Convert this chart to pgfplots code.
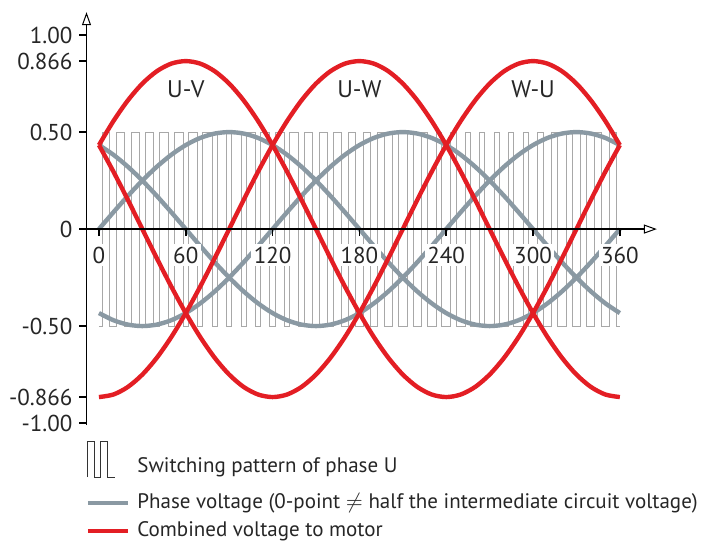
\documentclass[border=0pt]{standalone}
\usepackage{pgfplots}
\pgfplotsset{compat=1.18}
\usepackage{pgfplotstable}
\usepackage{fontspec}
\setmainfont{PT Sans}
\usetikzlibrary{arrows.meta}

\definecolor{motorred}{HTML}{E31E24}
\definecolor{phasegray}{HTML}{8A99A3}
\definecolor{pwmgray}{HTML}{A8A8A8}

% phase voltages (ga, gb, gc) and combined voltages (r1, r2, r3)
\pgfplotstableread{
x   ga      gb      gc      r1      r2      r3
0   0       0.4330  -0.4330 0.4330  -0.8660 0.4330
10  0.0868  0.3830  -0.4698 0.5567  -0.8529 0.2962
20  0.1710  0.3214  -0.4924 0.6634  -0.8138 0.1504
30  0.2500  0.2500  -0.5000 0.7500  -0.7500 0
40  0.3214  0.1710  -0.4924 0.8138  -0.6634 -0.1504
50  0.3830  0.0868  -0.4698 0.8529  -0.5567 -0.2962
60  0.4330  0       -0.4330 0.8660  -0.4330 -0.4330
70  0.4698  -0.0868 -0.3830 0.8529  -0.2962 -0.5567
80  0.4924  -0.1710 -0.3214 0.8138  -0.1504 -0.6634
90  0.5000  -0.2500 -0.2500 0.7500  0       -0.7500
100 0.4924  -0.3214 -0.1710 0.6634  0.1504  -0.8138
110 0.4698  -0.3830 -0.0868 0.5567  0.2962  -0.8529
120 0.4330  -0.4330 0       0.4330  0.4330  -0.8660
130 0.3830  -0.4698 0.0868  0.2962  0.5567  -0.8529
140 0.3214  -0.4924 0.1710  0.1504  0.6634  -0.8138
150 0.2500  -0.5000 0.2500  0       0.7500  -0.7500
160 0.1710  -0.4924 0.3214  -0.1504 0.8138  -0.6634
170 0.0868  -0.4698 0.3830  -0.2962 0.8529  -0.5567
180 0       -0.4330 0.4330  -0.4330 0.8660  -0.4330
190 -0.0868 -0.3830 0.4698  -0.5567 0.8529  -0.2962
200 -0.1710 -0.3214 0.4924  -0.6634 0.8138  -0.1504
210 -0.2500 -0.2500 0.5000  -0.7500 0.7500  0
220 -0.3214 -0.1710 0.4924  -0.8138 0.6634  0.1504
230 -0.3830 -0.0868 0.4698  -0.8529 0.5567  0.2962
240 -0.4330 0       0.4330  -0.8660 0.4330  0.4330
250 -0.4698 0.0868  0.3830  -0.8529 0.2962  0.5567
260 -0.4924 0.1710  0.3214  -0.8138 0.1504  0.6634
270 -0.5000 0.2500  0.2500  -0.7500 0       0.7500
280 -0.4924 0.3214  0.1710  -0.6634 -0.1504 0.8138
290 -0.4698 0.3830  0.0868  -0.5567 -0.2962 0.8529
300 -0.4330 0.4330  0       -0.4330 -0.4330 0.8660
310 -0.3830 0.4698  -0.0868 -0.2962 -0.5567 0.8529
320 -0.3214 0.4924  -0.1710 -0.1504 -0.6634 0.8138
330 -0.2500 0.5000  -0.2500 0       -0.7500 0.7500
340 -0.1710 0.4924  -0.3214 0.1504  -0.8138 0.6634
350 -0.0868 0.4698  -0.3830 0.2962  -0.8529 0.5567
360 0       0.4330  -0.4330 0.4330  -0.8660 0.4330
}\waves

\begin{document}
\begin{tikzpicture}
\useasboundingbox (-43.25pt,-58.5pt) rectangle (310.75pt,212.5pt);
\begin{axis}[
    scale only axis,
    width=285.2pt, height=206.4pt,
    at={(0,0)}, anchor=south west,
    xmin=-8.6, xmax=385.6,
    ymin=-1.01, ymax=1.118,
    axis x line=middle, axis y line=left,
    axis on top,
    axis line style={line width=0.9pt, -{Triangle[open,length=6.5pt,width=4.5pt,line width=0.5pt]}},
    tick style={line width=0.9pt, black},
    tick align=outside,
    major tick length=3.5pt,
    xtick={0,60,120,180,240,300,360},
    xticklabels={0,60,120,180,240,300,360},
    ytick={-1,-0.866,-0.5,0,0.5,0.866,1},
    yticklabels={-1.00,-0.866,-0.50,0,0.50,0.866,1.00},
    tick label style={font=\fontsize{11.5}{13}\selectfont, text=black!85},
    xticklabel style={fill=white, inner sep=1.2pt, yshift=-4pt},
]
% switching pattern of phase U
\addplot[pwmgray, line width=0.5pt, const plot] coordinates {
(0,-0.5) (2.44,0.5) (7.57,-0.5) (12.31,0.5) (17.69,-0.5) (22.18,0.5) (27.82,-0.5)
(32.07,0.5) (37.93,-0.5) (41.97,0.5) (48.03,-0.5) (51.89,0.5) (58.11,-0.5)
(61.82,0.5) (68.18,-0.5) (71.78,0.5) (78.22,-0.5) (81.75,0.5) (88.25,-0.5)
(91.75,0.5) (98.25,-0.5) (101.78,0.5) (108.22,-0.5) (111.82,0.5) (118.18,-0.5)
(121.89,0.5) (128.11,-0.5) (131.97,0.5) (138.03,-0.5) (142.07,0.5) (147.93,-0.5)
(152.18,0.5) (157.82,-0.5) (162.31,0.5) (167.69,-0.5) (172.44,0.5) (177.56,-0.5)
(182.57,0.5) (187.43,-0.5) (192.69,0.5) (197.31,-0.5) (202.82,0.5) (207.18,-0.5)
(212.93,0.5) (217.07,-0.5) (223.03,0.5) (226.97,-0.5) (233.11,0.5) (236.89,-0.5)
(243.18,0.5) (246.82,-0.5) (253.22,0.5) (256.78,-0.5) (263.25,0.5) (266.75,-0.5)
(273.25,0.5) (276.75,-0.5) (283.22,0.5) (286.78,-0.5) (293.18,0.5) (296.82,-0.5)
(303.11,0.5) (306.89,-0.5) (313.03,0.5) (316.97,-0.5) (322.93,0.5) (327.07,-0.5)
(332.82,0.5) (337.18,-0.5) (342.69,0.5) (347.31,-0.5) (352.57,0.5) (357.43,-0.5)
(360,-0.5)
};
% phase voltages
\addplot[phasegray, line width=2.2pt, smooth] table[x=x, y=ga] {\waves};
\addplot[phasegray, line width=2.2pt, smooth] table[x=x, y=gb] {\waves};
\addplot[phasegray, line width=2.2pt, smooth] table[x=x, y=gc] {\waves};
% combined voltages
\addplot[motorred, line width=2.2pt, smooth] table[x=x, y=r1] {\waves};
\addplot[motorred, line width=2.2pt, smooth] table[x=x, y=r2] {\waves};
\addplot[motorred, line width=2.2pt, smooth] table[x=x, y=r3] {\waves};

\node[font=\fontsize{12}{14}\selectfont, text=black!85] at (axis cs:60,0.72) {U-V};
\node[font=\fontsize{12}{14}\selectfont, text=black!85] at (axis cs:180,0.72) {U-W};
\node[font=\fontsize{12}{14}\selectfont, text=black!85] at (axis cs:300,0.72) {W-U};
\end{axis}

% legend
\draw[black!80, line width=0.5pt] (0.75pt,-26pt) -- (0.75pt,-8pt) -- (4pt,-8pt) -- (4pt,-26pt)
    -- (7.25pt,-26pt) -- (7.25pt,-8pt) -- (10.5pt,-8pt) -- (10.5pt,-26pt) -- (14.5pt,-26pt);
\draw[phasegray, line width=2.4pt] (0.75pt,-39pt) -- (20.75pt,-39pt);
\draw[motorred, line width=2.4pt] (0.75pt,-53pt) -- (20.75pt,-53pt);
\begin{scope}[every node/.style={anchor=west, inner sep=0pt, font=\fontsize{10.5}{12}\selectfont, text=black!85}]
\node at (25.25pt,-21pt) {Switching pattern of phase U};
\node at (25.25pt,-39pt) {Phase voltage (0-point $\neq$ half the intermediate circuit voltage)};
\node at (25.25pt,-53pt) {Combined voltage to motor};
\end{scope}
\end{tikzpicture}
\end{document}
